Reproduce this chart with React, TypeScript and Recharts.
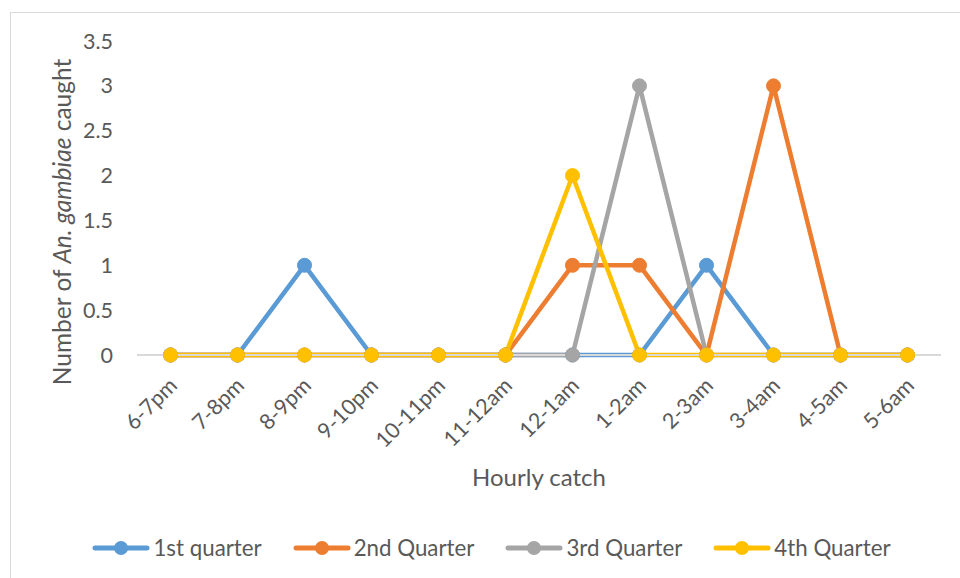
import React from "react";
import { LineChart, Line, XAxis, YAxis, Legend, Label } from "recharts";

const categories = ["6-7pm", "7-8pm", "8-9pm", "9-10pm", "10-11pm", "11-12am", "12-1am", "1-2am", "2-3am", "3-4am", "4-5am", "5-6am"];
const q1 = [0, 0, 1, 0, 0, 0, 0, 0, 1, 0, 0, 0];
const q2 = [0, 0, 0, 0, 0, 0, 1, 1, 0, 3, 0, 0];
const q3 = [0, 0, 0, 0, 0, 0, 0, 3, 0, 0, 0, 0];
const q4 = [0, 0, 0, 0, 0, 0, 2, 0, 0, 0, 0, 0];
const yTicks = [0, 0.5, 1, 1.5, 2, 2.5, 3, 3.5];

const seriesDefs = [
  { key: "q1", name: "1st quarter", color: "#5B9BD5" },
  { key: "q2", name: "2nd Quarter", color: "#ED7D31" },
  { key: "q3", name: "3rd Quarter", color: "#A5A5A5" },
  { key: "q4", name: "4th Quarter", color: "#FFC000" },
];

const data = categories.map((c, i) => ({ cat: c, q1: q1[i], q2: q2[i], q3: q3[i], q4: q4[i] }));

const FONT = "Lato, 'Open Sans', sans-serif";
const TXT = "#595959";

const XTick = (props: any) => {
  const { x, y, payload } = props;
  const ax = x + 8;
  const ay = y + 24;
  return (
    <text x={ax} y={ay} transform={`rotate(-45, ${ax}, ${ay})`} textAnchor="end" fill={TXT} fontSize={21.5} fontFamily={FONT}>
      {payload.value}
    </text>
  );
};

const YTick = (props: any) => {
  const { x, y, payload } = props;
  return (
    <text x={x} y={y} dy={7.5} textAnchor="end" fill={TXT} fontSize={21.5} fontFamily={FONT}>
      {payload.value}
    </text>
  );
};

const LegendContent = () => (
  <div style={{ display: "flex", justifyContent: "center", paddingLeft: 42, fontFamily: FONT, fontSize: 22.3, color: TXT }}>
    {seriesDefs.map((s, i) => (
      <div key={s.key} style={{ display: "flex", alignItems: "center", marginRight: i < 3 ? 31 : 0 }}>
        <svg width={58} height={20} style={{ marginRight: 3 }}>
          <line x1={3} y1={10} x2={55} y2={10} stroke={s.color} strokeWidth={5} strokeLinecap="round" />
          <circle cx={29} cy={10} r={7} fill={s.color} />
        </svg>
        <span>{s.name}</span>
      </div>
    ))}
  </div>
);

export default function App() {
  return (
    <div style={{ position: "absolute", left: 0, top: 0, width: 960, height: 578, overflow: "hidden", background: "#fff" }}>
      <div style={{ position: "absolute", left: 10, top: 12, width: 1000, height: 1000, border: "1px solid #D9D9D9" }} />
      <div style={{ position: "absolute", left: 0, top: 0 }}>
        <LineChart width={960} height={578} data={data} margin={{ top: 41, right: 19, bottom: 14, left: 0 }}>
          <XAxis
            dataKey="cat"
            height={179}
            tick={<XTick />}
            tickLine={false}
            axisLine={{ stroke: "#D9D9D9", strokeWidth: 2 }}
            interval={0}
            padding={{ left: 33.5, right: 33.5 }}
          >
            <Label
              content={(p: any) => {
                const vb = p.viewBox;
                return (
                  <text x={vb.x + vb.width / 2} y={vb.y + 131} textAnchor="middle" fill={TXT} fontSize={24} fontFamily={FONT}>
                    Hourly catch
                  </text>
                );
              }}
            />
          </XAxis>
          <YAxis
            width={137}
            domain={[0, 3.5]}
            ticks={yTicks}
            tick={<YTick />}
            tickLine={false}
            axisLine={false}
            tickSize={0}
            tickMargin={24}
          >
            <Label
              content={(p: any) => {
                const vb = p.viewBox;
                const cx = 71;
                const cy = vb.y + vb.height / 2 + 24;
                return (
                  <text x={cx} y={cy} transform={`rotate(-90, ${cx}, ${cy})`} textAnchor="middle" fill={TXT} fontSize={24.5} fontFamily={FONT}>
                    Number of <tspan fontStyle="italic">An. gambiae</tspan> caught
                  </text>
                );
              }}
            />
          </YAxis>
          <Legend verticalAlign="bottom" height={30} content={<LegendContent />} />
          {seriesDefs.map((s) => (
            <Line
              key={s.key}
              type="linear"
              dataKey={s.key}
              name={s.name}
              stroke={s.color}
              strokeWidth={4.5}
              dot={{ r: 7, fill: s.color, stroke: s.color, strokeWidth: 1 }}
              activeDot={false}
              isAnimationActive={false}
            />
          ))}
        </LineChart>
      </div>
    </div>
  );
}
